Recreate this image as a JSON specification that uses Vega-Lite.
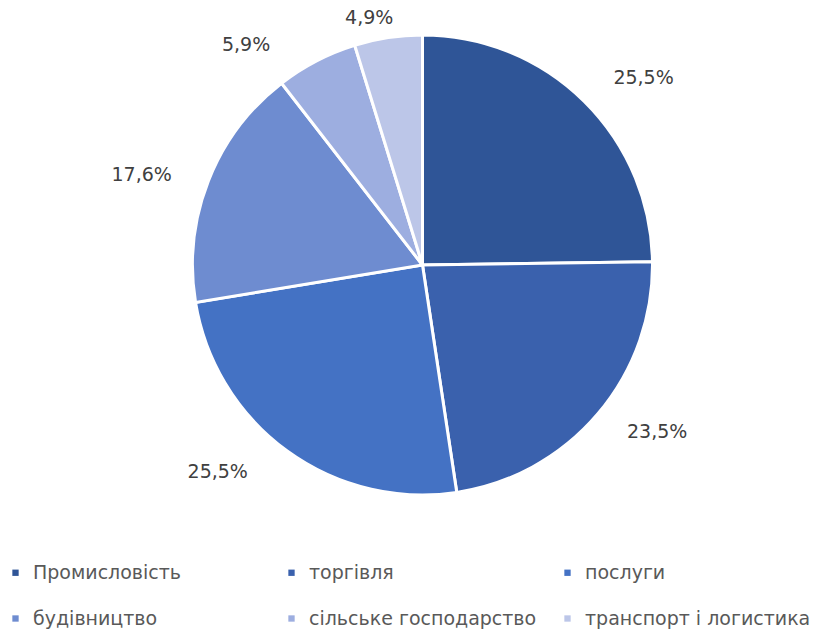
{
  "$schema": "https://vega.github.io/schema/vega-lite/v6.json",
  "width": 839,
  "height": 530,
  "autosize": "none",
  "padding": {"left": 3, "top": 0, "right": 0, "bottom": 101},
  "background": "white",
  "config": {"view": {"stroke": null}, "font": "DejaVu Sans"},
  "data": {
    "values": [
      {"sector": "Промисловість", "share": 25.5, "label": "25,5%", "ord": 1},
      {"sector": "торгівля", "share": 23.5, "label": "23,5%", "ord": 2},
      {"sector": "послуги", "share": 25.5, "label": "25,5%", "ord": 3},
      {"sector": "будівництво", "share": 17.6, "label": "17,6%", "ord": 4},
      {"sector": "сільське господарство", "share": 5.9, "label": "5,9%", "ord": 5},
      {"sector": "транспорт і логистика", "share": 4.9, "label": "4,9%", "ord": 6}
    ]
  },
  "encoding": {
    "theta": {"field": "share", "type": "quantitative", "stack": true},
    "order": {"field": "ord", "type": "quantitative"}
  },
  "layer": [
    {
      "mark": {"type": "arc", "outerRadius": 230, "stroke": "white", "strokeWidth": 3},
      "encoding": {
        "color": {
          "field": "sector",
          "type": "nominal",
          "scale": {
            "domain": ["Промисловість", "торгівля", "послуги", "будівництво", "сільське господарство", "транспорт і логистика"],
            "range": ["#2F5597", "#3A61AD", "#4472C4", "#6E8CD0", "#9DAEE0", "#BCC6E8"]
          },
          "legend": {
            "title": null,
            "orient": "none",
            "direction": "horizontal",
            "legendX": 3,
            "legendY": 563,
            "columns": 3,
            "gridAlign": "all",
            "columnPadding": 21,
            "rowPadding": 26,
            "symbolType": "square",
            "symbolSize": 40,
            "symbolStrokeWidth": 0,
            "labelFontSize": 19,
            "labelColor": "#595959",
            "labelOffset": 8,
            "labelLimit": 400
          }
        }
      }
    },
    {
      "mark": {
        "type": "text",
        "fontSize": 19,
        "fill": "#404040",
        "radius": {"expr": "datum.ord == 6 ? 250 : (datum.ord == 5 ? 248 : 292)"},
        "dx": {"expr": "datum.ord == 6 ? -16 : (datum.ord == 5 ? -62 : (datum.ord == 1 ? 16 : (datum.ord == 2 ? 12 : (datum.ord == 3 ? -33 : -9))))"},
        "dy": {"expr": "datum.ord == 1 ? 21 : (datum.ord == 2 ? -22 : (datum.ord == 3 ? -29 : (datum.ord == 4 ? 17 : 0)))"}
      },
      "encoding": {
        "text": {"field": "label", "type": "nominal"}
      }
    }
  ]
}
